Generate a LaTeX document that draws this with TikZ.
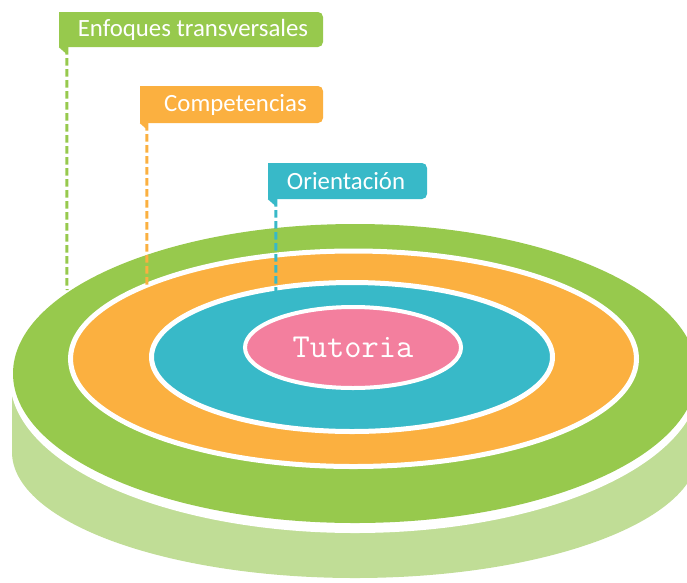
\documentclass[tikz,border=0pt]{standalone}
\usepackage{fontspec}
\setmainfont{Carlito}
\usetikzlibrary{shapes.geometric}
\definecolor{cgreen}{HTML}{97C94D}
\definecolor{clight}{HTML}{C0DD96}
\definecolor{corange}{HTML}{FBB040}
\definecolor{cteal}{HTML}{38B9C8}
\definecolor{cpink}{HTML}{F37F9E}
\tikzset{
  ring/.style={ellipse, inner sep=0pt, outer sep=0pt, draw=white},
  callout/.style={rounded corners=5pt, inner sep=0pt, text=white,
    font=\fontsize{24.8}{25}\selectfont},
  leader/.style={line width=3pt, dash pattern=on 7.5pt off 3.5pt}
}
\begin{document}
\begin{tikzpicture}[x=1pt,y=-1pt]
\useasboundingbox (0,0) rectangle (687,582);
\clip (0,0) rectangle (687,582);
% side of the disc
\fill[clight] (12,380) -- (12,452)
  arc[start angle=180, end angle=0, x radius=343, y radius=126] -- (698,380) -- cycle;
\node[ellipse, inner sep=0pt, fill=white, minimum width=690pt, minimum height=308pt] (gap) at (355,379) {};
% rings
\node[ellipse, inner sep=0pt, fill=cgreen, minimum width=684pt, minimum height=299pt] (green) at (355,373.5) {};
\node[ring, fill=corange, line width=5pt, minimum width=566pt, minimum height=215.5pt] (orange) at (353.5,358.75) {};
\node[ring, fill=cteal, line width=5pt, minimum width=401pt, minimum height=149pt] (teal) at (352,357) {};
\node[ring, fill=cpink, line width=4pt, minimum width=216pt, minimum height=81pt,
  text=white, font=\ttfamily\fontsize{33.5}{34}\selectfont] (tut) at (353,347.5) {Tutoria};
% callouts
\node[callout, fill=cgreen, minimum width=264pt, minimum height=35pt] (gbox) at (191,29.5) {\hspace*{4pt}Enfoques transversales};
\node[callout, fill=corange, minimum width=183pt, minimum height=37pt] (obox) at (231.5,104.5) {\hspace*{8pt}Competencias};
\node[callout, fill=cteal, minimum width=159pt, minimum height=36pt] (tbox) at (347.5,181) {Orientación\hspace*{3pt}};
\foreach \b/\c in {gbox/cgreen, obox/corange, tbox/cteal}{
  \fill[\c] (\b.south west) rectangle ([xshift=7pt]\b.north west);
  \fill[\c] (\b.south west) -- ++(8,0) -- ++(0,7) -- cycle;
}
% leader ends
\coordinate (gend) at (67,290);
\coordinate (oend) at (147,288);
\coordinate (tend) at (276,303);
\draw[leader, cgreen] ([xshift=8pt]gbox.south west) -- (gend);
\draw[leader, corange] ([xshift=7pt]obox.south west) -- (oend);
\draw[leader, cteal] ([xshift=8pt]tbox.south west) -- (tend);
\end{tikzpicture}
\end{document}
